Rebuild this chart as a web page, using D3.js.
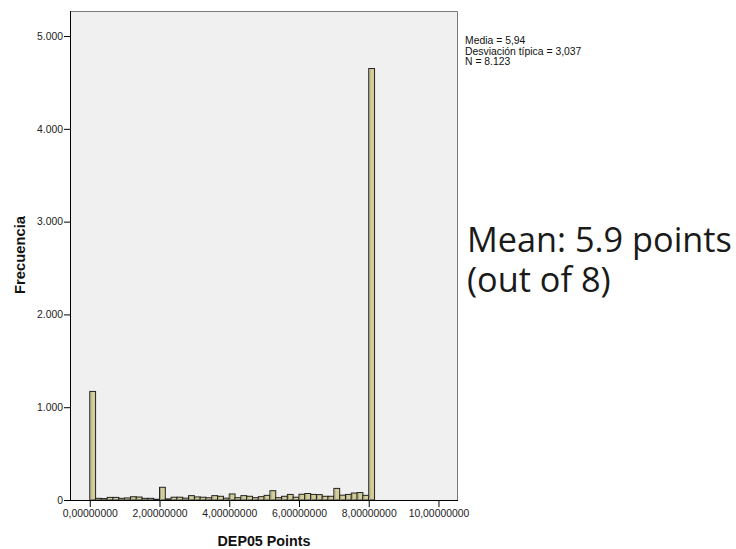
<!DOCTYPE html>
<html>
<head>
<meta charset="utf-8">
<script src="https://cdn.jsdelivr.net/npm/d3@7"></script>
<style>
  body { margin: 0; background: #fff; }
  svg { display: block; font-family: "Liberation Sans", Arial, sans-serif; }
</style>
</head>
<body>
<svg id="chart" width="736" height="549"></svg>
<script>
// histogram of DEP05 Points, bins of 1/6 starting at 0
var binWidth = 1 / 6;
var counts = [1170,
  18, 15, 28, 28, 18, 22, 35, 32, 18, 18, 8,
  137, 12, 30, 30, 20, 47, 33, 30, 24, 47, 40, 20,
  65, 25, 47, 40, 25, 36, 50, 100,
  25, 40, 60, 30, 62, 70, 60, 58, 40, 40, 125, 52, 60, 75, 80, 50,
  4650];
var binStarts = counts.map(function(d, i) { return i * binWidth; });

var yTicks = [0, 1000, 2000, 3000, 4000, 5000];
var xTicks = [0, 2, 4, 6, 8, 10];
var statLines = ["Media = 5,94", "Desviación típica = 3,037", "N = 8.123"];
var noteLines = ["Mean: 5.9 points", "(out of 8)"];

var svg = d3.select("#chart");

// plot area (don't call it "top", that's window.top)
var pLeft = 70, pRight = 458, pTop = 11, pBottom = 500;

var x = d3.scaleLinear().domain([-0.567, 10.56]).range([pLeft, pRight]);
var y = d3.scaleLinear().domain([0, 5270]).range([pBottom, pTop]);

// plot background + frame (top/right grey)
svg.append("rect")
  .attr("x", pLeft).attr("y", pTop)
  .attr("width", pRight - pLeft).attr("height", pBottom - pTop)
  .attr("fill", "#f0f0f0");
svg.append("path")
  .attr("d", "M" + pLeft + "," + (pTop + 0.5) + "H" + (pRight - 0.5) + "V" + pBottom)
  .attr("fill", "none")
  .attr("stroke", "#7a7a7a")
  .attr("stroke-width", 1);

// bars
var bars = svg.append("g");
bars.selectAll("rect")
  .data(counts)
  .enter()
  .append("rect")
  .attr("x", function(d, i) { return x(binStarts[i]); })
  .attr("y", function(d) { return y(d); })
  .attr("width", function(d, i) { return x(binStarts[i] + binWidth) - x(binStarts[i]); })
  .attr("height", function(d) { return pBottom - y(d); })
  .attr("fill", "#d3cd97")
  .attr("stroke", "#222")
  .attr("stroke-width", 1);
bars.selectAll("line")
  .data(counts)
  .enter()
  .append("line")
  .attr("x1", function(d, i) { return x(binStarts[i]) + 1; })
  .attr("x2", function(d, i) { return x(binStarts[i]) + 1; })
  .attr("y1", function(d) { return y(d) + 1; })
  .attr("y2", pBottom)
  .attr("stroke", "#9a9a8a")
  .attr("stroke-width", 1);

// y axis
var yAxis = d3.axisLeft(y)
  .tickValues(yTicks)
  .tickSize(6)
  .tickSizeOuter(0)
  .tickPadding(1)
  .tickFormat(function(d) { return d === 0 ? "0" : d3.format(",")(d).replace(",", "."); });
var gy = svg.append("g")
  .attr("transform", "translate(" + pLeft + ",0)")
  .call(yAxis);
gy.select(".domain").attr("d", "M0.5," + pTop + "V" + pBottom).attr("stroke", "#000");
gy.selectAll("text").attr("font-size", "10.4px").attr("fill", "#222").attr("font-family", "Liberation Sans");

// x axis
var xAxis = d3.axisBottom(x)
  .tickValues(xTicks)
  .tickSize(7)
  .tickSizeOuter(0)
  .tickPadding(3)
  .tickFormat(function(d) { return d3.format(".8f")(d).replace(".", ","); });
var gx = svg.append("g")
  .attr("transform", "translate(0," + pBottom + ")")
  .call(xAxis);
gx.select(".domain").attr("d", "M" + pLeft + ",0.5H" + pRight).attr("stroke", "#000");
gx.selectAll("text").attr("font-size", "10.4px").attr("fill", "#222").attr("font-family", "Liberation Sans");

// axis titles
svg.append("text")
  .attr("x", 264).attr("y", 546)
  .attr("text-anchor", "middle")
  .attr("font-weight", "bold")
  .attr("font-size", "14.3px")
  .attr("fill", "#111")
  .text("DEP05 Points");
svg.append("text")
  .attr("transform", "translate(25,255) rotate(-90)")
  .attr("text-anchor", "middle")
  .attr("font-weight", "bold")
  .attr("font-size", "14.8px")
  .attr("fill", "#111")
  .text("Frecuencia");

// stats box text
svg.append("g").selectAll("text")
  .data(statLines)
  .enter()
  .append("text")
  .attr("x", 465)
  .attr("y", function(d, i) { return 44 + i * 10.7; })
  .attr("font-size", "10.4px")
  .attr("fill", "#111")
  .text(function(d) { return d; });

// annotation
var note = svg.append("g").selectAll("text")
  .data(noteLines)
  .enter()
  .append("text")
  .attr("x", 467)
  .attr("y", function(d, i) { return 252 + i * 40; })
  .attr("font-family", "Open Sans")
  .attr("font-size", "30px")
  .attr("fill", "#1a1a1a")
  .text(function(d) { return d; });
var w = note.nodes()[0].getComputedTextLength();
note.attr("font-size", (30 * 265 / w) + "px");
</script>
</body>
</html>
